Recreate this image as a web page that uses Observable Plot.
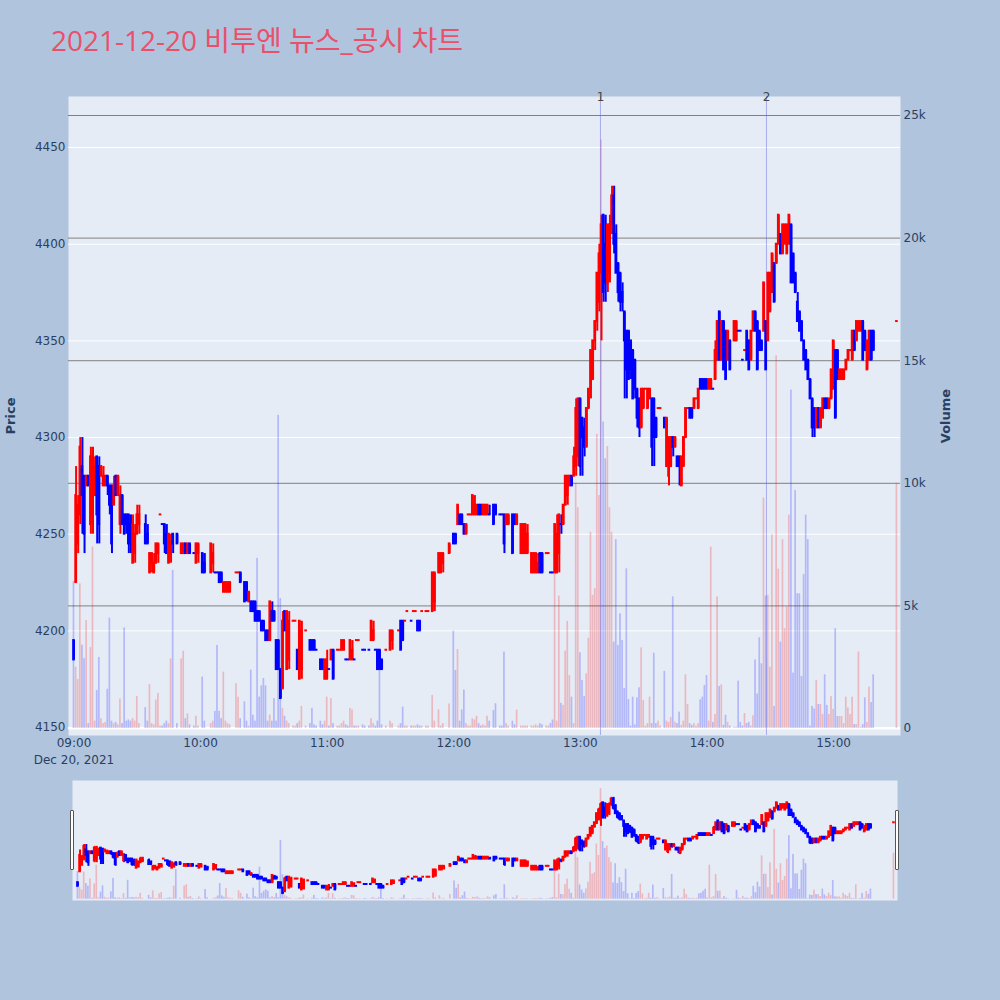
<!DOCTYPE html>
<html><head><meta charset="utf-8">
<script src="https://cdn.jsdelivr.net/npm/d3@7"></script>
<script src="https://cdn.jsdelivr.net/npm/@observablehq/plot@0.6"></script>
<style>
html,body{margin:0;padding:0}
body{background:#B0C4DE;width:1000px;height:1000px;position:relative;overflow:hidden;font-family:"DejaVu Sans",sans-serif}
.layer{position:absolute;left:0}
.handle{position:absolute;width:2px;height:58px;background:#fff;border:1px solid #555;border-radius:1px}
</style></head><body>
<script>
// ---------- data ----------
const chartTitle = "2021-12-20 비투엔 뉴스_공시 차트";
const dateLabel = "Dec 20, 2021";
const timeTickLabels = ["09:00","10:00","11:00","12:00","13:00","14:00","15:00"];
const priceTicks = [4150,4200,4250,4300,4350,4400,4450];
const volumeTicks = [0,5000,10000,15000,20000,25000];
const volumeTickLabels = ["0","5k","10k","15k","20k","25k"];
const newsTimes = ["13:09:30","14:28:10"];
const newsLabels = ["1","2"];
// rows: [minutes after 09:00, open, high, low, close, volume]
const h09 = [
[0,4195,4195,4185,4185,6000],[1,4225,4285,4225,4270,2500],[2,4245,4270,4240,4265,2000],[3,4260,4300,4255,4295,5900],
[4,4285,4300,4250,4270,3400],[5,4280,4280,4240,4250,2850],[6,4275,4280,4275,4280,4400],[7,4280,4280,4275,4275,200],
[8,4255,4295,4250,4290,3300],[9,4260,4295,4250,4290,7400],[10,4270,4290,4270,4285,300],[11,4290,4290,4245,4260,1550],
[12,4285,4290,4245,4255,2900],[13,4280,4285,4280,4285,400],[14,4275,4285,4275,4280,200],[15,4275,4280,4275,4280,250],
[16,4280,4280,4270,4275,1600],[17,4275,4275,4260,4265,4500],[18,4275,4275,4240,4245,300],[19,4265,4280,4265,4275,200],
[20,4280,4280,4270,4270,250],[21,4270,4280,4270,4280,150],[22,4255,4275,4250,4270,1200],[23,4270,4270,4255,4255,200],
[24,4260,4260,4250,4250,4100],[25,4260,4260,4250,4255,300],[26,4260,4260,4240,4245,350],[27,4255,4260,4240,4245,300],
[28,4235,4260,4235,4255,400],[29,4240,4255,4235,4250,300],[30,4250,4265,4250,4260,1300],[31,4255,4265,4250,4260,200],
[34,4255,4260,4245,4245,850],[35,4250,4255,4245,4245,300],[36,4230,4240,4230,4240,1800],[37,4235,4240,4230,4240,200],
[38,4230,4240,4230,4235,150],[39,4235,4245,4235,4245,1160],[40,4240,4245,4235,4245,1430],[41,4260,4260,4260,4260,100],
[42,4255,4255,4255,4255,100],[43,4255,4255,4240,4245,200],[44,4250,4255,4240,4240,300],[45,4235,4250,4235,4250,200],
[46,4240,4250,4235,4245,2840],[47,4250,4250,4240,4245,6450],[49,4250,4250,4245,4245,200],[51,4240,4245,4240,4245,2840],
[52,4240,4245,4240,4245,3150],[53,4245,4245,4240,4240,400],[54,4240,4245,4240,4245,600],[55,4245,4245,4240,4240,150],
[57,4240,4240,4240,4240,100],[58,4235,4245,4235,4245,500],[59,4240,4245,4235,4245,100]
];
const h10 = [
[61,4240,4240,4230,4230,2100],[62,4235,4240,4230,4230,300],[65,4230,4245,4230,4245,200],[66,4235,4245,4230,4240,300],
[67,4230,4230,4230,4230,700],[68,4230,4230,4230,4230,3390],[69,4230,4230,4225,4225,700],[70,4230,4230,4225,4225,400],
[71,4220,4225,4220,4225,2300],[72,4220,4225,4220,4225,300],[73,4220,4225,4220,4225,200],[74,4220,4225,4220,4225,150],
[77,4230,4230,4230,4230,1825],[78,4230,4230,4230,4230,1280],[79,4230,4230,4225,4225,400],[81,4225,4225,4215,4215,1090],
[82,4225,4225,4215,4220,300],[83,4215,4220,4215,4220,100],[84,4215,4215,4210,4210,2380],[85,4215,4215,4210,4210,540],
[86,4215,4215,4205,4205,300],[87,4210,4210,4205,4205,6940],[88,4210,4210,4205,4205,1280],[89,4205,4205,4200,4200,1740],
[90,4205,4205,4200,4200,2040],[91,4200,4200,4195,4195,1740],[92,4200,4200,4195,4195,300],[93,4195,4215,4195,4215,550],
[94,4210,4215,4205,4205,300],[95,4210,4210,4205,4205,1220],[96,4195,4195,4180,4180,300],[97,4195,4195,4180,4180,12770],
[98,4180,4180,4165,4165,5300],[99,4170,4210,4170,4205,820],[100,4210,4210,4200,4200,500],[101,4180,4210,4180,4210,300],
[102,4185,4210,4180,4205,200],[104,4205,4205,4205,4205,100],[105,4205,4205,4205,4205,100],[106,4190,4190,4180,4180,200],
[107,4175,4205,4175,4205,300],[108,4180,4205,4175,4200,900],[110,4200,4200,4200,4200,100],[112,4195,4195,4190,4190,200],
[113,4195,4195,4190,4190,820],[114,4195,4195,4190,4190,150],[115,4190,4190,4190,4190,100],[117,4185,4185,4180,4180,300],
[118,4185,4185,4180,4180,150],[119,4175,4185,4175,4185,300]
];
const h11 = [
[120,4175,4190,4175,4185,1280],[121,4180,4180,4180,4180,100],[122,4185,4190,4185,4190,1220],[123,4190,4190,4175,4175,200],
[125,4190,4190,4190,4190,100],[126,4190,4190,4190,4190,100],[127,4190,4195,4190,4195,200],[128,4190,4195,4190,4195,300],
[129,4185,4185,4185,4185,150],[130,4185,4185,4185,4185,100],[131,4185,4195,4185,4195,820],[132,4185,4195,4185,4190,760],
[133,4185,4185,4185,4185,100],[134,4195,4195,4195,4195,100],[135,4195,4195,4195,4195,100],[137,4190,4190,4190,4190,150],
[138,4190,4190,4190,4190,100],[140,4190,4190,4190,4190,100],[141,4195,4205,4195,4205,400],[142,4195,4205,4195,4200,200],
[143,4190,4190,4190,4190,100],[144,4190,4190,4180,4180,300],[145,4190,4190,4180,4180,3100],[146,4185,4185,4180,4180,150],
[148,4190,4190,4190,4190,100],[150,4190,4200,4190,4200,300],[151,4195,4200,4190,4200,200],[154,4200,4200,4200,4200,100],
[155,4205,4205,4190,4190,200],[156,4205,4205,4195,4195,870],[157,4205,4205,4205,4205,100],[158,4210,4210,4210,4210,100],
[160,4205,4205,4205,4205,100],[161,4210,4210,4210,4210,100],[162,4210,4210,4210,4210,100],[163,4205,4205,4200,4200,150],
[164,4205,4205,4200,4200,100],[165,4210,4210,4210,4210,100],[167,4210,4210,4210,4210,100],[168,4210,4210,4210,4210,100],
[170,4210,4230,4210,4230,1350],[171,4215,4230,4210,4230,300],[173,4230,4240,4230,4240,760],[174,4230,4240,4230,4240,100],
[175,4235,4240,4230,4240,200],[178,4240,4245,4240,4245,1000]
];
const h12 = [
[180,4250,4250,4245,4245,3970],[181,4250,4250,4245,4245,2370],[182,4255,4265,4255,4265,3220],[183,4260,4260,4255,4255,300],
[184,4260,4260,4255,4255,760],[185,4255,4255,4250,4250,1570],[186,4250,4255,4250,4255,200],[187,4260,4260,4260,4260,100],
[188,4260,4260,4260,4260,100],[189,4260,4270,4260,4270,400],[190,4260,4270,4260,4265,350],[191,4260,4265,4260,4265,500],
[192,4265,4265,4260,4260,200],[193,4265,4265,4260,4260,100],[194,4260,4265,4260,4265,150],[195,4260,4265,4260,4265,100],
[196,4260,4265,4260,4265,500],[197,4260,4265,4260,4260,300],[199,4265,4265,4255,4255,735],[200,4265,4265,4260,4260,1010],
[202,4260,4260,4260,4260,100],[203,4260,4260,4260,4260,100],[204,4260,4260,4240,4245,3115],[205,4255,4260,4255,4260,200],
[206,4255,4260,4255,4260,100],[208,4260,4260,4240,4240,300],[209,4260,4260,4255,4255,150],[210,4255,4260,4255,4260,750],
[212,4240,4255,4240,4255,100],[213,4240,4255,4240,4255,100],[214,4240,4255,4240,4255,100],[215,4240,4255,4240,4250,100],
[217,4230,4240,4230,4240,100],[218,4230,4240,4230,4240,100],[219,4230,4240,4230,4240,150],[220,4230,4240,4230,4235,100],
[221,4240,4240,4230,4230,200],[222,4240,4240,4230,4230,150],[224,4240,4240,4240,4240,100],[225,4240,4240,4240,4240,100],
[226,4230,4230,4230,4230,200],[227,4230,4230,4230,4230,350],[228,4230,4255,4230,4255,7700],[229,4230,4260,4230,4250,300],
[230,4240,4260,4230,4260,5400],[231,4255,4260,4250,4255,1030],[232,4255,4265,4255,4265,940],[233,4265,4280,4265,4280,3160],
[234,4270,4280,4265,4280,4370],[235,4275,4280,4275,4280,2160],[236,4280,4280,4275,4275,1280],[237,4280,4295,4280,4290,200],
[238,4285,4320,4280,4315,10000],[239,4290,4320,4285,4320,9000]
];
const h13 = [
[240,4320,4320,4280,4285,3090],[241,4310,4310,4280,4300,1960],[242,4305,4310,4290,4295,1300],[243,4295,4315,4295,4315,2230],
[244,4315,4325,4315,4325,3680],[245,4325,4345,4320,4345,8000],[246,4330,4350,4330,4350,5430],[247,4350,4360,4345,4360,5700],
[248,4360,4385,4355,4385,12000],[249,4370,4400,4365,4395,9500],[250,4385,4415,4350,4410,24000],[251,4415,4415,4370,4375,12500],
[252,4400,4415,4370,4380,11000],[253,4380,4410,4375,4410,11500],[254,4385,4415,4380,4410,9000],[255,4410,4430,4405,4425,8000],
[256,4425,4430,4395,4400,3520],[257,4405,4410,4385,4385,7700],[258,4390,4390,4370,4375,3390],[259,4385,4385,4365,4370,4680],
[260,4375,4380,4365,4370,3590],[261,4365,4365,4320,4350,1630],[262,4355,4355,4320,4335,6510],[263,4355,4355,4330,4330,1180],
[264,4350,4350,4330,4335,100],[265,4345,4345,4320,4320,1280],[266,4340,4340,4320,4325,150],[267,4325,4325,4305,4310,1250],
[268,4320,4320,4300,4305,1660],[269,4305,4325,4305,4325,3290],[270,4315,4325,4315,4325,1140],[271,4325,4325,4325,4325,100],
[272,4315,4325,4315,4325,200],[273,4320,4325,4320,4325,1280],[274,4320,4320,4285,4295,200],[275,4320,4320,4285,4300,3070],
[276,4310,4310,4300,4300,200],[277,4315,4315,4315,4315,300],[278,4315,4315,4315,4315,100],[280,4310,4310,4305,4305,2330],
[281,4285,4310,4285,4310,300],[282,4280,4300,4275,4300,250],[283,4285,4300,4285,4300,450],[284,4300,4300,4290,4295,5370],
[285,4295,4300,4295,4300,250],[286,4290,4290,4285,4285,200],[287,4290,4290,4275,4285,670],[288,4275,4290,4275,4290,130],
[289,4285,4300,4285,4300,300],[290,4300,4315,4300,4315,2190],[291,4315,4315,4315,4315,980],[292,4315,4315,4310,4310,200],
[293,4315,4315,4310,4310,130],[294,4315,4320,4315,4320,200],[295,4320,4320,4320,4320,100],[296,4315,4325,4315,4325,200],
[297,4330,4330,4325,4325,1170],[298,4330,4330,4325,4325,1280],[299,4330,4330,4325,4325,1750]
];
const h14 = [
[300,4330,4330,4325,4325,2160],[301,4325,4330,4325,4330,300],[302,4325,4330,4325,4330,7400],[303,4325,4325,4325,4325,250],
[304,4330,4350,4330,4345,570],[305,4340,4360,4340,4360,5370],[306,4365,4365,4340,4340,1710],[307,4340,4360,4340,4360,1780],
[308,4360,4360,4335,4335,130],[309,4355,4355,4330,4330,540],[310,4340,4355,4340,4355,250],[311,4350,4350,4335,4335,100],
[313,4350,4360,4350,4360,50],[314,4350,4360,4350,4360,50],[315,4355,4355,4355,4355,1930],[316,4355,4355,4355,4355,250],
[317,4340,4340,4340,4340,100],[318,4345,4345,4345,4345,610],[319,4355,4355,4340,4340,200],[320,4350,4350,4335,4335,250],
[321,4340,4355,4340,4355,100],[322,4355,4365,4355,4365,520],[323,4365,4365,4355,4355,2800],[324,4360,4360,4335,4335,1410],
[325,4355,4355,4345,4345,3700],[326,4350,4350,4345,4345,2640],[327,4355,4380,4355,4380,9400],[328,4360,4360,4335,4335,5400],
[329,4350,4385,4350,4385,5430],[330,4365,4385,4365,4385,2500],[331,4375,4395,4375,4395,7900],[332,4390,4390,4370,4370,900],
[333,4390,4400,4390,4400,15200],[334,4400,4415,4400,4415,6500],[335,4405,4405,4395,4395,3520],[336,4395,4410,4395,4410,7700],
[337,4400,4410,4400,4410,4070],[338,4395,4410,4395,4410,4950],[339,4400,4415,4400,4415,8700],[340,4410,4410,4380,4380,13800],
[341,4395,4395,4380,4380,2260],[342,4385,4385,4375,4375,9700],[343,4370,4375,4360,4360,5500],[344,4365,4365,4355,4355,5490],
[345,4360,4360,4350,4350,2120],[346,4350,4350,4340,4340,6280],[347,4345,4345,4335,4335,8700],[348,4340,4340,4330,4330,7700],
[349,4330,4330,4320,4320,100],[350,4320,4320,4300,4305,900],[351,4315,4315,4300,4305,800],[352,4305,4315,4305,4315,1960],
[353,4315,4315,4305,4305,980],[354,4305,4315,4305,4315,980],[355,4310,4320,4310,4320,570],[356,4320,4320,4315,4315,2190],
[357,4320,4320,4315,4315,940],[358,4315,4320,4315,4320,570],[359,4320,4335,4320,4335,1300]
];
const h15 = [
[360,4325,4350,4325,4350,780],[361,4345,4345,4310,4310,4070],[362,4345,4345,4330,4330,490],[363,4330,4335,4330,4335,490],
[364,4330,4335,4330,4335,490],[365,4330,4335,4330,4335,200],[366,4335,4340,4335,4340,1280],[367,4340,4345,4340,4345,840],
[368,4345,4345,4345,4345,570],[369,4340,4355,4340,4355,1280],[370,4355,4355,4345,4345,160],[371,4350,4360,4350,4360,160],
[372,4355,4360,4355,4360,3120],[373,4355,4360,4355,4360,50],[374,4360,4360,4340,4340,160],[375,4355,4355,4345,4345,1250],
[376,4335,4350,4335,4350,250],[377,4340,4355,4340,4355,1690],[378,4355,4355,4340,4340,1060],[379,4355,4355,4345,4345,2190],
[390,4360,4360,4360,4360,10000]
];

// ---------- build ----------
const UP = "#ff0000", DOWN = "#0000ff";
const MIN = 60000;
const base = Date.UTC(2021, 11, 20, 9, 0);
const toTime = m => new Date(base + m * MIN);
const hms = s => { const [h, m, x] = s.split(":").map(Number); return (h - 9) * 60 + m + (x || 0) / 60; };
const rows = [...h09, ...h10, ...h11, ...h12, ...h13, ...h14, ...h15];
let prevC = null, prevDir = DOWN;
const candles = rows.map(([m, o, h, l, c, v]) => {
  let col = c > o ? UP : c < o ? DOWN : (prevC == null ? DOWN : c > prevC ? UP : c < prevC ? DOWN : prevDir);
  prevC = c; prevDir = col;
  return {t: toTime(m), t0: toTime(m - 0.15), t1: toTime(m + 0.15), v0: toTime(m - 0.4), v1: toTime(m + 0.4),
          o, h, l, c, v, col, lo: Math.min(o, c), hi: Math.max(o, c)};
});
const news = newsTimes.map((s, i) => ({t: toTime(hms(s)), label: newsLabels[i]}));
const xDomain = [toTime(-2.6), toTime(391.7)];
const priceDomain = [4145.9, 4476.4];
const volDomain = [-285, 25775];
const timeTicks = timeTickLabels.map(s => toTime(hms(s)));
const font = "'DejaVu Sans','Noto Sans CJK KR',sans-serif";
const W = 1000, H = 780;
const common = {width: W, height: H, marginLeft: 68, marginRight: 100, marginTop: 96, marginBottom: 45,
  style: {background: "transparent", fontFamily: font, fontSize: "12px", color: "#2a3f5f", overflow: "visible"},
  color: {type: "identity"}};

function place(el, top) { el.classList.add("layer"); el.style.top = top + "px"; document.body.appendChild(el); }

// layer 1: background, price grid & axes
place(Plot.plot({...common,
  x: {type: "utc", domain: xDomain, axis: null},
  y: {domain: priceDomain, axis: null},
  marks: [
    Plot.frame({fill: "#E5ECF6", stroke: null}),
    Plot.gridY(priceTicks, {stroke: "#ffffff", strokeOpacity: 1, strokeWidth: 1}),
    Plot.axisY(priceTicks, {anchor: "left", tickSize: 0, tickPadding: 3, label: null, fill: "#2a3f5f", tickFormat: d => String(d)}),
    Plot.axisX(timeTicks, {anchor: "bottom", tickSize: 0, tickPadding: 3, label: null, fill: "#2a3f5f",
      tickFormat: d => d3.utcFormat("%H:%M")(d)}),
    Plot.text([dateLabel], {x: () => timeTicks[0], text: d => d, frameAnchor: "bottom", lineAnchor: "middle", dy: 25, fill: "#2a3f5f", fontSize: 12}),
    Plot.text(["Price"], {text: d => d, frameAnchor: "left", textAnchor: "middle", dx: -58, rotate: -90, fontWeight: "bold", fontSize: 13, fill: "#2a3f5f"})
  ]}), 0);

// layer 2: volume
place(Plot.plot({...common,
  x: {type: "utc", domain: xDomain, axis: null},
  y: {domain: volDomain, axis: null},
  marks: [
    Plot.gridY(volumeTicks.slice(1), {stroke: "#808080", strokeOpacity: 1, strokeWidth: 1}),
    Plot.ruleY([0], {stroke: "#ffffff", strokeWidth: 2}),
    Plot.rect(candles, {x1: "v0", x2: "v1", y1: 0, y2: "v", fill: "col", fillOpacity: 0.22}),
    Plot.axisY(volumeTicks, {anchor: "right", tickSize: 0, tickPadding: 3, label: null, fill: "#2a3f5f",
      tickFormat: d => volumeTickLabels[volumeTicks.indexOf(d)]}),
    Plot.text(["Volume"], {text: d => d, frameAnchor: "right", textAnchor: "middle", dx: 45, rotate: -90, fontWeight: "bold", fontSize: 13, fill: "#2a3f5f"})
  ]}), 0);

// layer 3: news lines + candles
place(Plot.plot({...common,
  x: {type: "utc", domain: xDomain, axis: null},
  y: {domain: priceDomain, axis: null},
  marks: [
    Plot.ruleX(news, {x: "t", stroke: "#5a5ae0", strokeOpacity: 0.45, strokeWidth: 1}),
    Plot.ruleX(candles, {x: "t", y1: "l", y2: "h", stroke: "col", strokeWidth: 2}),
    Plot.rect(candles, {x1: "t0", x2: "t1", y1: "lo", y2: "hi", fill: "col", insetTop: -1, insetBottom: -1, insetLeft: -1, insetRight: -1}),
    Plot.text(news, {x: "t", text: "label", frameAnchor: "top", lineAnchor: "middle", dy: 1, fill: "#444", fontSize: 12})
  ]}), 0);

// range slider
const sl = {width: W, height: 120, marginLeft: 72, marginRight: 103, marginTop: 0, marginBottom: 0,
  style: {background: "transparent", fontFamily: font, overflow: "visible"}, color: {type: "identity"}};
place(Plot.plot({...sl,
  x: {type: "utc", domain: xDomain, axis: null}, y: {domain: volDomain, axis: null},
  marks: [
    Plot.frame({fill: "#E5ECF6", stroke: null}),
    Plot.rect(candles, {x1: "v0", x2: "v1", y1: 0, y2: "v", fill: "col", fillOpacity: 0.22})
  ]}), 780);
place(Plot.plot({...sl,
  x: {type: "utc", domain: xDomain, axis: null}, y: {domain: priceDomain, axis: null},
  marks: [
    Plot.ruleX(candles, {x: "t", y1: "l", y2: "h", stroke: "col", strokeWidth: 2}),
    Plot.rect(candles, {x1: "t0", x2: "t1", y1: "lo", y2: "hi", fill: "col", insetTop: -1, insetBottom: -1, insetLeft: -1, insetRight: -1})
  ]}), 780);
for (const left of [70, 895]) {
  const d = document.createElement("div"); d.className = "handle";
  d.style.left = left + "px"; d.style.top = "810px"; document.body.appendChild(d);
}

// title
const ns = "http://www.w3.org/2000/svg";
const tsvg = document.createElementNS(ns, "svg");
tsvg.setAttribute("width", "1000"); tsvg.setAttribute("height", "70");
tsvg.style.position = "absolute"; tsvg.style.left = "0"; tsvg.style.top = "0";
const tt = document.createElementNS(ns, "text");
tt.setAttribute("x", "51"); tt.setAttribute("y", "51");
tt.setAttribute("font-size", "28"); tt.setAttribute("fill", "#E9506A");
tt.setAttribute("font-family", "'Open Sans','Noto Sans CJK KR',sans-serif");
tt.textContent = chartTitle;
tsvg.appendChild(tt); document.body.appendChild(tsvg);
</script></body></html>
